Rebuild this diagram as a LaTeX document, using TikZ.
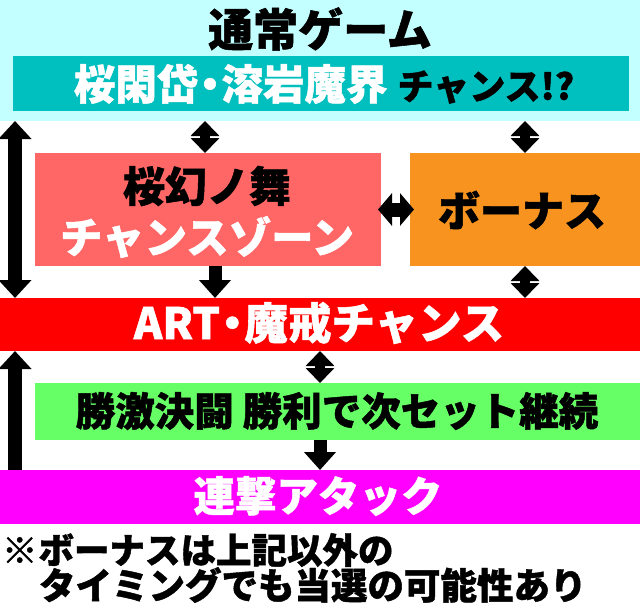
\documentclass[tikz,border=0pt]{standalone}
\usepackage{fontspec}
\setmainfont{Noto Sans CJK JP}[BoldFeatures={FakeBold=1.2}]
\usetikzlibrary{arrows.meta}
\definecolor{bandcyan}{HTML}{C4FFFF}
\definecolor{tealbox}{HTML}{00BFBF}
\definecolor{pinkbox}{HTML}{FF6666}
\definecolor{orangebox}{HTML}{F7931E}
\definecolor{redband}{HTML}{FF0000}
\definecolor{greenbox}{HTML}{66FF66}
\definecolor{magband}{HTML}{FF00FF}
\newcommand{\ndot}{\hspace{-0.22em}・\hspace{-0.22em}}
\tikzset{
  blk/.style={inner sep=0pt, outer sep=0pt, anchor=north west, draw=none},
  lbl/.style={inner sep=0pt, outer sep=0pt, font=\bfseries\fontsize{42}{42}\selectfont},
  notelbl/.style={inner sep=0pt, outer sep=0pt, anchor=west, font=\bfseries\fontsize{35.5}{35.5}\selectfont},
  bigone/.style={line width=14pt, -{Triangle[width=32pt,length=18pt]}},
  bigtwo/.style={line width=14pt, {Triangle[width=32pt,length=18pt]}-{Triangle[width=32pt,length=18pt]}},
  smalltwo/.style={line width=10pt, {Triangle[width=28pt,length=15pt]}-{Triangle[width=28pt,length=15pt]}},
  smallone/.style={line width=13pt, -{Triangle[width=31pt,length=18pt]}},
}
\begin{document}
\begin{tikzpicture}[x=1pt,y=-1pt]
\useasboundingbox (0,0) rectangle (640,613);
\fill[white] (0,0) rectangle (640,613);
% blocks
\node[blk, fill=bandcyan, minimum width=640pt, minimum height=121pt] (band) at (0,0) {};
\node[blk, fill=tealbox, minimum width=616pt, minimum height=55pt] (teal) at (13,56) {};
\node[blk, fill=pinkbox, minimum width=346pt, minimum height=113pt] (pink) at (35,153) {};
\node[blk, fill=orangebox, minimum width=230pt, minimum height=113pt] (bonus) at (410,153) {};
\node[blk, fill=redband, minimum width=640pt, minimum height=53pt] (art) at (0,298) {};
\node[blk, fill=greenbox, minimum width=605pt, minimum height=57pt] (green) at (35,383) {};
\node[blk, fill=magband, minimum width=640pt, minimum height=54pt] (mag) at (0,470) {};
% texts
\node[lbl, font=\bfseries\fontsize{45}{45}\selectfont] (title) at (320,29) {通常ゲーム};
\node[lbl] (tealtxt) at (324,84) {{\color{white}\fontsize{41.5}{41.5}\selectfont 桜閑岱\ndot 溶岩魔界}\hspace{10pt}{\fontsize{36}{36}\selectfont チャンス!?}};
\node[lbl] (pink1) at (207,186) {桜幻ノ舞};
\node[lbl, text=white, font=\bfseries\fontsize{42.5}{42.5}\selectfont] (pink2) at (207,237) {チャンスゾーン};
\node[lbl] (bonustxt) at (522,210) {ボーナス};
\node[lbl, text=white, font=\bfseries\fontsize{43.5}{43.5}\selectfont] (arttxt) at (319,323) {ART\ndot 魔戒チャンス};
\node[lbl, font=\bfseries\fontsize{39.5}{39.5}\selectfont] (greentxt) at (337,411) {勝激決闘 勝利で次セット継続};
\node[lbl, font=\bfseries\fontsize{41.5}{41.5}\selectfont, text=white] (magtxt) at (318,496) {連撃アタック};
\node[notelbl] (note1) at (2,550) {※\hspace{1pt}ボーナスは上記以外の};
\node[notelbl, font=\bfseries\fontsize{36.5}{36.5}\selectfont] (note2) at (39,585) {タイミングでも当選の可能性あり};
% arrows
\draw[bigtwo] ([xshift=15pt]band.south west) -- ([xshift=15pt]art.north west);
\draw[smalltwo] ([xshift=205pt]band.south west) -- ([xshift=205pt]band.south west |- pink.north);
\draw[smalltwo] ([xshift=525pt]band.south west) -- ([xshift=525pt]band.south west |- bonus.north);
\draw[line width=14pt, {Triangle[width=32pt,length=14pt]}-{Triangle[width=32pt,length=14pt]}] ([xshift=-3pt]pink.east) -- ([xshift=4pt]bonus.west);
\draw[smallone] ([xshift=180pt]pink.south west) -- ([xshift=180pt]pink.south west |- art.north);
\draw[smalltwo] ([xshift=115pt]bonus.south west) -- ([xshift=115pt]bonus.south west |- art.north);
\draw[bigone] ([xshift=15pt]mag.north west) -- ([xshift=15pt]art.south west);
\draw[smalltwo] ([xshift=320pt]art.south west) -- ([xshift=320pt]art.south west |- green.north);
\draw[smallone] ([xshift=285pt]green.south west) -- ([xshift=285pt]green.south west |- mag.north);
\end{tikzpicture}
\end{document}
